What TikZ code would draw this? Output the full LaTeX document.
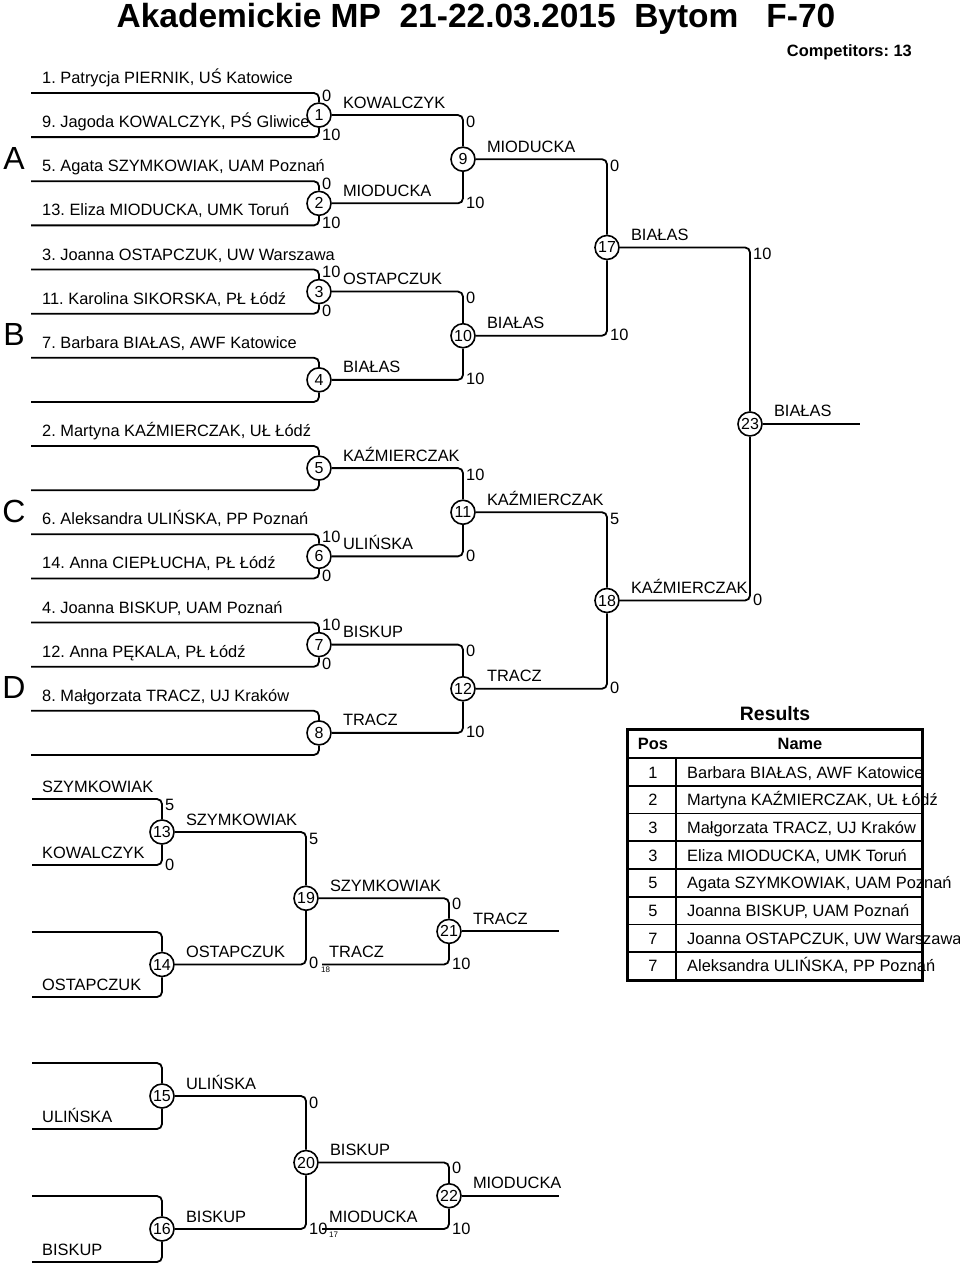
\documentclass[tikz,border=0pt]{standalone}
\usepackage{fontspec}
\setmainfont{Liberation Sans}
\usetikzlibrary{calc}
\frenchspacing

\begin{document}
\begin{tikzpicture}[x=1pt,y=-1pt,
 bracket/.style ={-,draw=black,line width=1.8pt,rounded corners=5pt},
 bout/.style ={circle,draw=black,line width=1.6pt,fill=white,minimum size=24pt,inner sep=0pt,font=\fontsize{16}{16}\selectfont},
 entrant/.style ={anchor=west,inner sep=0pt,text height=12pt,text depth=0pt,font=\fontsize{16.4}{19}\selectfont},
 winner/.style ={entrant},
 score/.style ={entrant},
 smallnum/.style ={anchor=west,inner sep=0pt,font=\fontsize{8}{8}\selectfont},
 pool/.style ={inner sep=0pt,font=\fontsize{32}{32}\selectfont},
 tabline/.style ={-,draw=black,line width=1.6pt},
 heading/.style ={inner sep=0pt,font=\bfseries\fontsize{16.4}{19}\selectfont}
 ]
\useasboundingbox (0,0) rectangle (960,1264);
%draw title
\node[inner sep=0pt,anchor=base,font=\bfseries\fontsize{33.5}{34}\selectfont] (title) at (476,27) {Akademickie MP\ \ 21-22.03.2015\ \ Bytom\ \ \ F-70};
\node[heading,anchor=base east] (count) at (912,56) {Competitors: 13};
%draw pool letters
\foreach \ps/\y in {A/158,B/334,C/511,D/687}
  \node[pool] (pool\ps) at (14,\y) {\ps};
%draw entries
\foreach \en in {1,...,16}
  \coordinate (e\en) at (31,{93+44.13*(\en-1)});
\foreach \en/\txt in {1/{1. Patrycja PIERNIK, UŚ Katowice}, 2/{9. Jagoda KOWALCZYK, PŚ Gliwice},
  3/{5. Agata SZYMKOWIAK, UAM Poznań}, 4/{13. Eliza MIODUCKA, UMK Toruń},
  5/{3. Joanna OSTAPCZUK, UW Warszawa}, 6/{11. Karolina SIKORSKA, PŁ Łódź},
  7/{7. Barbara BIAŁAS, AWF Katowice}, 9/{2. Martyna KAŹMIERCZAK, UŁ Łódź},
  11/{6. Aleksandra ULIŃSKA, PP Poznań}, 12/{14. Anna CIEPŁUCHA, PŁ Łódź},
  13/{4. Joanna BISKUP, UAM Poznań}, 14/{12. Anna PĘKALA, PŁ Łódź},
  15/{8. Małgorzata TRACZ, UJ Kraków}}
  \node[entrant] (t\en) at ($(e\en)+(11pt,15.5pt)$) {\txt};
%draw first round
\foreach \m [evaluate=\m as \ia using int(2*\m-1), evaluate=\m as \ib using int(2*\m)] in {1,...,8}{
  \node[bout] (m\m) at ($(e\ia)!.5!(e\ib)+(288,0)$) {\m};
  \draw[bracket] (e\ia) -| (m\m);
  \draw[bracket] (e\ib) -| (m\m);
}
\foreach \m/\ia/\ib/\sa/\sb in {1/1/2/0/10, 2/3/4/0/10, 3/5/6/10/0, 6/11/12/10/0, 7/13/14/10/0}{
  \node[score] (p\ia) at ($(m\m|-e\ia)+(3pt,-2pt)$) {\sa};
  \node[score] (p\ib) at ($(m\m|-e\ib)+(3pt,3pt)$) {\sb};
}
%draw later rounds
\foreach \m/\ia/\ib in {9/1/2,10/3/4,11/5/6,12/7/8,17/9/10,18/11/12}
  \node[bout] (m\m) at ($(m\ia)!.5!(m\ib)+(144,0)$) {\m};
\node[bout] (m23) at ($(m17)!.5!(m18)+(143,0)$) {23};
%draw repechage entries
\foreach \en/\y in {1/799,2/865,3/932,4/997,5/1063,6/1129,7/1196,8/1262}
  \coordinate (r\en) at (32,\y);
\foreach \en/\nm in {1/SZYMKOWIAK,2/KOWALCZYK,4/OSTAPCZUK,6/ULIŃSKA,8/BISKUP}
  \node[entrant] (u\en) at ($(r\en)+(10pt,12.5pt)$) {\nm};
\foreach \m/\ia/\ib in {13/1/2,14/3/4,15/5/6,16/7/8}{
  \node[bout] (m\m) at ($(r\ia)!.5!(r\ib)+(130,0)$) {\m};
  \draw[bracket] (r\ia) -| (m\m);
  \draw[bracket] (r\ib) -| (m\m);
}
\node[score] (q1) at ($(m13|-r1)+(3pt,-5pt)$) {5};
\node[score] (q2) at ($(m13|-r2)+(3pt,1pt)$) {0};
%draw repechage rounds
\foreach \m/\ia/\ib in {19/13/14,20/15/16}
  \node[bout] (m\m) at ($(m\ia)!.5!(m\ib)+(144,0)$) {\m};
\coordinate (tr) at ($(m14)+(160,0)$);
\coordinate (mi) at ($(m16)+(160,0)$);
\node[bout] (m21) at ($(m19)!.5!(tr)+(135,0)$) {21};
\node[bout] (m22) at ($(m20)!.5!(mi)+(135,0)$) {22};
%draw winners and scores
\foreach \src/\dst/\pts/\dy/\nm in {1/9/0/-6pt/KOWALCZYK, 2/9/10/1pt/MIODUCKA,
  3/10/0/-6pt/OSTAPCZUK, 4/10/10/1pt/BIAŁAS, 5/11/10/-6pt/KAŹMIERCZAK, 6/11/0/1pt/ULIŃSKA,
  7/12/0/-6pt/BISKUP, 8/12/10/1pt/TRACZ, 9/17/0/-6pt/MIODUCKA, 10/17/10/1pt/BIAŁAS,
  11/18/5/-6pt/KAŹMIERCZAK, 12/18/0/1pt/TRACZ, 17/23/10/-6pt/BIAŁAS, 18/23/0/1pt/KAŹMIERCZAK,
  13/19/5/-6pt/SZYMKOWIAK, 14/19/0/2pt/OSTAPCZUK, 19/21/0/-5pt/SZYMKOWIAK,
  15/20/0/-6pt/ULIŃSKA, 16/20/10/1pt/BISKUP, 20/22/0/-5pt/BISKUP}{
  \draw[bracket] (m\src) -| (m\dst);
  \node[winner] (w\src) at ([xshift=11pt,yshift=13pt]m\src.east) {\nm};
  \node[score] (s\src) at ($(m\dst|-m\src)+(3pt,\dy)$) {\pts};
}
\draw[bracket] (tr) -| (m21);
\node[winner] (wtr) at ([xshift=7pt,yshift=13pt]tr) {TRACZ};
\node[score] (str) at ($(m21|-tr)+(3pt,1pt)$) {10};
\draw[bracket] (mi) -| (m22);
\node[winner] (wmi) at ([xshift=7pt,yshift=13pt]mi) {MIODUCKA};
\node[score] (smi) at ($(m22|-mi)+(3pt,1pt)$) {10};
\node[smallnum] (x18) at ($(m19|-m14)+(15pt,-5pt)$) {18};
\node[smallnum] (x17) at ($(m20|-m16)+(23pt,-6pt)$) {17};
%draw final lines
\foreach \m/\nm in {23/BIAŁAS,21/TRACZ,22/MIODUCKA}{
  \coordinate (f\m) at ($(m\m)+(110,0)$);
  \draw[bracket] (m\m) -- (f\m);
  \node[winner] (w\m) at ([xshift=11pt,yshift=13pt]m\m.east) {\nm};
}
%draw results table
\node[inner sep=0pt,font=\bfseries\fontsize{19.4}{20}\selectfont] (results) at (775,714) {Results};
\draw[tabline] (627,758) -- (922,758);
\foreach \row in {1,...,7}
  \draw[tabline] (627,{758+27.75*\row}) -- (922,{758+27.75*\row});
\draw[tabline] (676,758) -- (676,980);
\draw[line width=3pt] (627,729) rectangle (922,980);
\node[heading] (hpos) at (653,744) {Pos};
\node[heading] (hname) at (800,744) {Name};
\foreach \ps/\nm [count=\row] in {1/{Barbara BIAŁAS, AWF Katowice}, 2/{Martyna KAŹMIERCZAK, UŁ Łódź},
  3/{Małgorzata TRACZ, UJ Kraków}, 3/{Eliza MIODUCKA, UMK Toruń}, 5/{Agata SZYMKOWIAK, UAM Poznań},
  5/{Joanna BISKUP, UAM Poznań}, 7/{Joanna OSTAPCZUK, UW Warszawa}, 7/{Aleksandra ULIŃSKA, PP Poznań}}{
  \node[entrant,anchor=center] (pos\row) at (653,{772+27.7*(\row-1)}) {\ps};
  \node[entrant] (res\row) at (687,{772+27.7*(\row-1)}) {\nm};
}
\end{tikzpicture}
\end{document}
